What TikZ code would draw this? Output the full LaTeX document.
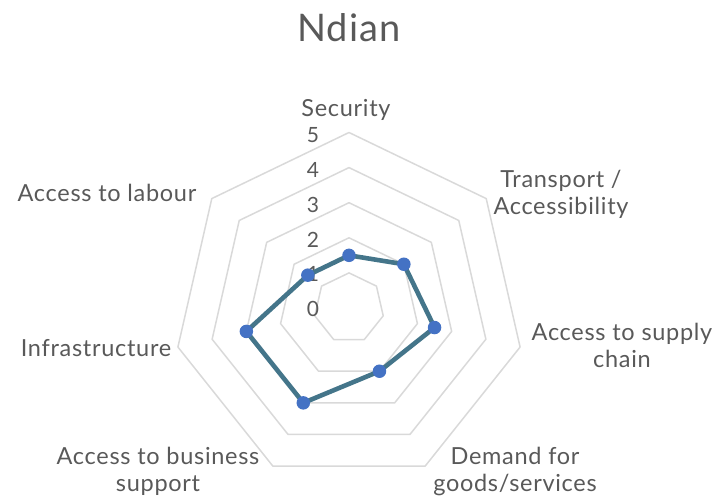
\documentclass[tikz,border=0pt]{standalone}
\usepackage{fontspec}
\setmainfont{Lato}[LetterSpace=3]
\usepackage{tikz}
\usetikzlibrary{calc}
\definecolor{gridgray}{RGB}{217,217,217}
\definecolor{txtgray}{RGB}{89,89,89}
\definecolor{serieline}{RGB}{68,117,138}
\definecolor{seriedot}{RGB}{68,114,196}
\tikzset{
  ring/.style={draw=gridgray, line width=1.5pt, line join=round},
  catlabel/.style={text=txtgray, font=\fontsize{23.5}{27}\selectfont, align=center, inner sep=0pt},
  vallabel/.style={text=txtgray, font=\fontsize{21}{24}\selectfont, inner sep=0pt},
  serie/.style={draw=serieline, line width=4.6pt, line join=round},
  dot/.style={circle, fill=seriedot, inner sep=0pt, minimum size=13.5pt},
}

\begin{document}
\begin{tikzpicture} [x=1pt, y=1pt]
\useasboundingbox (0,0) rectangle (718,501);
\node[text=txtgray, font=\fontsize{38}{42}\selectfont] (title) at (349,473) {Ndian};
\begin{scope}[shift={(349,193)}]
\foreach \r in {1,...,5} {
 \draw[ring] (90:\r*35.1) \foreach \k in {1,...,6} { -- (90-\k*360/7:\r*35.1) } -- cycle;
}
\foreach \v [count=\k from 0] in {1.5,2,2.5,2,3,3,1.5} {
 \coordinate (p\k) at (90-\k*360/7:\v*35.1);
}
\end{scope}
\foreach \v in {0,...,5} {
 \node[vallabel] (val\v) at (313,192+\v*34.8) {\v};
}
\draw[serie] (p0) -- (p1) -- (p2) -- (p3) -- (p4) -- (p5) -- (p6) -- cycle;
\foreach \k in {0,...,6} {
 \node[dot] (dot\k) at (p\k) {};
}
\node[catlabel] (security) at (346,391) {Security};
\node[catlabel] (transport) at (561,306.5) {Transport /\\Accessibility};
\node[catlabel] (supply) at (622,156) {Access to supply\\chain};
\node[catlabel] (demand) at (515,30) {Demand for\\goods/services};
\node[catlabel] (business) at (158,30) {Access to business\\support};
\node[catlabel] (infra) at (96,153) {Infrastructure};
\node[catlabel] (labour) at (107,308) {Access to labour};
\end{tikzpicture}
\end{document}
